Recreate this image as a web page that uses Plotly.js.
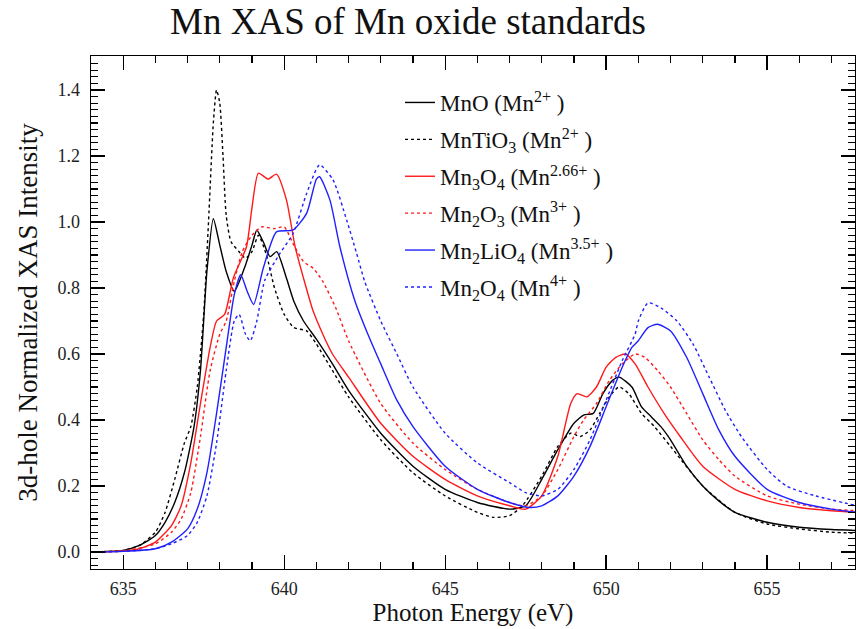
<!DOCTYPE html>
<html>
<head>
<meta charset="utf-8">
<script src="https://cdn.plot.ly/plotly-3.0.1.min.js"></script>
<style>html,body{margin:0;padding:0;background:#fff;}#chart{width:857px;height:629px;}</style>
</head>
<body>
<div id="chart"></div>
<script>
// ---- Data ----
const names = [
  "MnO (Mn<sup>2+</sup> )",
  "MnTiO<sub>3</sub> (Mn<sup>2+</sup> )",
  "Mn<sub>3</sub>O<sub>4</sub> (Mn<sup>2.66+</sup> )",
  "Mn<sub>2</sub>O<sub>3</sub> (Mn<sup>3+</sup> )",
  "Mn<sub>2</sub>LiO<sub>4</sub> (Mn<sup>3.5+</sup> )",
  "Mn<sub>2</sub>O<sub>4</sub> (Mn<sup>4+</sup> )"
];

const mnoX = [634,635,635.5,636,636.3,636.6,636.9,637.2,637.4,637.6,637.8,638.0,638.2,638.45,638.8,639.0,639.15,639.35,639.56,639.77,640.07,640.3,640.6,641.0,641.5,642,643,644,645,646,647,647.5,648,648.5,649,649.3,649.6,649.9,650.2,650.4,650.8,651.1,651.4,651.7,652,652.5,653,653.5,654,655,656,657,657.8];
const mnoY = [0.0,0.005,0.02,0.05,0.09,0.15,0.24,0.38,0.55,0.85,1.01,0.93,0.85,0.79,0.87,0.93,0.975,0.94,0.895,0.91,0.83,0.76,0.70,0.645,0.57,0.49,0.36,0.26,0.19,0.15,0.13,0.14,0.22,0.31,0.39,0.415,0.42,0.48,0.52,0.53,0.50,0.44,0.41,0.38,0.34,0.26,0.20,0.155,0.12,0.09,0.075,0.068,0.065];

const mntioX = [634,635,635.5,636,636.3,636.6,636.9,637.1,637.3,637.5,637.65,637.8,637.9,638.0,638.1,638.2,638.35,638.6,638.8,639.0,639.2,639.45,639.7,640.0,640.3,640.7,641.0,641.5,642,643,644,645,646,646.5,647,647.4,648,648.5,648.9,649.2,649.5,649.8,650.1,650.4,650.7,651.1,651.5,652,653,654,655,656,657,657.8];
const mntioY = [0.0,0.005,0.02,0.06,0.12,0.22,0.33,0.38,0.50,0.72,1.0,1.3,1.40,1.36,1.2,1.02,0.94,0.91,0.89,0.91,0.96,0.90,0.80,0.72,0.68,0.67,0.63,0.55,0.47,0.34,0.24,0.17,0.12,0.105,0.11,0.14,0.23,0.32,0.36,0.35,0.37,0.42,0.47,0.50,0.48,0.42,0.38,0.32,0.20,0.12,0.085,0.07,0.06,0.057];

const mn3o4X = [634,635,635.5,636,636.5,636.8,637.1,637.4,637.7,637.9,638.15,638.42,638.83,638.99,639.2,639.5,639.76,640.07,640.34,640.6,640.9,641.2,641.5,642,643,644,645,646,647,647.5,648,648.5,648.9,649.1,649.4,649.7,650.0,650.3,650.6,650.9,651.3,651.8,652.3,653,654,655,656,657,657.8];
const mn3o4Y = [0.0,0.003,0.01,0.03,0.08,0.14,0.27,0.45,0.62,0.70,0.72,0.83,0.925,1.036,1.148,1.13,1.145,1.067,0.925,0.83,0.73,0.66,0.60,0.53,0.39,0.29,0.22,0.17,0.14,0.13,0.17,0.29,0.45,0.48,0.47,0.50,0.56,0.59,0.60,0.57,0.50,0.42,0.35,0.26,0.19,0.155,0.135,0.125,0.12];

const mn2o3X = [634,635,636,636.5,636.8,637.1,637.4,637.7,638.0,638.2,638.45,638.7,639.0,639.3,639.7,640.0,640.3,640.6,640.9,641.2,641.6,642,643,644,645,646,647,647.5,648,648.5,649,649.3,649.7,650.1,650.5,650.9,651.2,651.6,652,652.5,653,653.5,654,655,656,657,657.8];
const mn2o3Y = [0.0,0.003,0.025,0.06,0.10,0.18,0.35,0.55,0.66,0.70,0.82,0.91,0.96,0.985,0.98,0.985,0.93,0.88,0.86,0.82,0.74,0.64,0.45,0.33,0.25,0.19,0.15,0.14,0.17,0.25,0.35,0.40,0.45,0.52,0.57,0.60,0.59,0.55,0.50,0.42,0.34,0.28,0.23,0.17,0.145,0.13,0.125];

const mn2lio4X = [634,635,636,636.5,637,637.3,637.6,637.9,638.2,638.45,638.65,638.85,639.05,639.35,639.76,640.28,640.7,641.0,641.1,641.42,641.73,642.2,642.6,643,643.5,644,645,646,647,647.6,648,648.5,649,649.5,650,650.5,650.8,651.0,651.3,651.6,652,652.5,653,653.5,654,655,656,657,657.8];
const mn2lio4Y = [0.0,0.002,0.01,0.03,0.07,0.13,0.24,0.42,0.62,0.78,0.84,0.79,0.75,0.86,0.97,0.976,1.027,1.13,1.137,1.067,0.925,0.76,0.66,0.57,0.46,0.38,0.26,0.19,0.15,0.135,0.14,0.17,0.23,0.32,0.44,0.56,0.62,0.64,0.68,0.69,0.67,0.59,0.48,0.37,0.29,0.19,0.15,0.13,0.12];

const mn2o4X = [634,635,636,636.5,637,637.3,637.6,637.9,638.2,638.45,638.6,638.8,638.95,639.15,639.4,639.87,640.28,640.7,641.1,641.52,641.94,642.25,642.5,643,643.5,644,645,646,647,647.5,648,648.5,649,649.5,650,650.5,650.9,651.0,651.3,651.7,652.2,652.7,653.2,653.7,654.2,655,655.6,656.5,657.8];
const mn2o4Y = [0.0,0.002,0.01,0.025,0.05,0.09,0.17,0.33,0.55,0.70,0.72,0.66,0.64,0.70,0.824,0.905,0.966,1.087,1.173,1.127,1.006,0.905,0.82,0.70,0.60,0.50,0.36,0.27,0.21,0.18,0.17,0.19,0.25,0.34,0.46,0.58,0.66,0.70,0.755,0.74,0.70,0.63,0.53,0.43,0.35,0.25,0.20,0.17,0.14];

const xTickVals = [635,640,645,650,655];
const yTickVals = [0.0,0.2,0.4,0.6,0.8,1.0,1.2,1.4];

const colors = ["#000000","#000000","#ff1a1a","#ff1a1a","#2020ff","#2020ff"];
const dashes = ["solid","dot","solid","dot","solid","dot"];
const xs = [mnoX,mntioX,mn3o4X,mn2o3X,mn2lio4X,mn2o4X];
const ys = [mnoY,mntioY,mn3o4Y,mn2o3Y,mn2lio4Y,mn2o4Y];

const serif = "'Liberation Serif', 'DejaVu Serif', serif";

const traces = names.map((n,i)=>({
  x: xs[i], y: ys[i], name: n, type: 'scatter', mode: 'lines',
  legendgroup: 'g'+i,
  line: {color: colors[i], width: 1.4, dash: dashes[i], shape: 'spline', smoothing: 0.6}
}));

const axisCommon = {
  showline: true, linecolor: '#000', linewidth: 1.3, mirror: 'allticks',
  ticks: 'inside', ticklen: 14, tickwidth: 1.3, tickcolor: '#000',
  showgrid: false, zeroline: false,
  tickfont: {family: serif, size: 18, color: '#222'}
};

const layout = {
  width: 857, height: 629,
  margin: {l: 91, r: 2, t: 56, b: 60},
  paper_bgcolor: '#fff', plot_bgcolor: '#fff',
  showlegend: true,
  title: {text: 'Mn XAS of Mn oxide standards', font: {family: serif, size: 37, color: '#111'},
          x: 408/857, xref: 'container', xanchor: 'center', y: 1 - 21/629, yref: 'container', yanchor: 'middle'},
  xaxis: Object.assign({}, axisCommon, {
    range: [634.0, 657.73], tickvals: xTickVals, ticklabelstandoff: 3,
    minor: {dtick: 1, ticklen: 7, tickwidth: 1.2, tickcolor: '#000', ticks: 'inside'},
    title: {text: 'Photon Energy (eV)', font: {family: serif, size: 25, color: '#111'}, standoff: 5}
  }),
  yaxis: Object.assign({}, axisCommon, {
    range: [-0.0515, 1.503], tickvals: yTickVals, tickformat: '.1f', ticklabelstandoff: 6,
    minor: {dtick: 0.02, tick0: 0, ticklen: 7, tickwidth: 1.2, tickcolor: '#000', ticks: 'inside'},
    title: {text: '3d-hole Normalized XAS Intensity', font: {family: serif, size: 27, color: '#111'}, standoff: 12}
  }),
  legend: {
    x: (400-91)/764, y: 1 - (81-56)/513, xanchor: 'left', yanchor: 'top',
    bgcolor: 'rgba(0,0,0,0)', borderwidth: 0,
    font: {family: serif, size: 23, color: '#111'},
    tracegroupgap: 4, traceorder: 'grouped'
  }
};

Plotly.newPlot('chart', traces, layout, {displayModeBar: false, staticPlot: true});
</script>
</body>
</html>
